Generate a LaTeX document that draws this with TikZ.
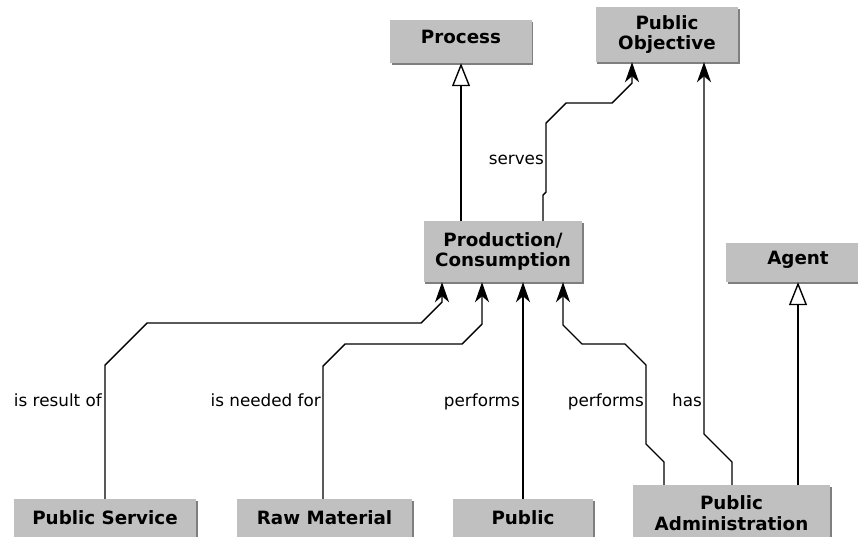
\documentclass[tikz,border=0pt]{standalone}
\usepackage{fontspec}
\setmainfont{DejaVu Sans}
\usetikzlibrary{arrows.meta,shadows}
\definecolor{boxgray}{HTML}{C0C0C0}
\definecolor{shadowgray}{HTML}{7F7F7F}
\begin{document}
\begin{tikzpicture}[x=1pt,y=-1pt,
  box/.style={fill=boxgray, draw=none, inner sep=0pt, align=center,
    font=\fontsize{18.3}{20.5}\selectfont\bfseries,
    drop shadow={shadow xshift=1.6pt, shadow yshift=-1.6pt, fill=shadowgray, opacity=1}},
  single/.style={text height=13.4pt, text depth=8.6pt},
  conn/.style={line width=1.4pt, black},
  assoc/.style={conn, -{Stealth[length=20pt,width=14pt,inset=6pt]}},
  gen/.style={conn, -{Triangle[open,length=23pt,width=18pt,fill=white]}},
  lbl/.style={font=\fontsize{16.8}{20}\selectfont, inner sep=0pt, anchor=base east}]
\useasboundingbox (0,0) rectangle (858,536);
\fill[white] (0,0) rectangle (858,536);
\clip (0,0) rectangle (858,536);

% boxes
\node[box,single,minimum width=141.5pt,minimum height=43pt] (proc) at (461,41.5) {Process};
\node[box,minimum width=142.5pt,minimum height=55pt] (po) at (667,34.5) {Public\\Objective};
\node[box,minimum width=158.5pt,minimum height=61pt] (prod) at (503,251.5) {Production/\\Consumption};
\node[box,single,minimum width=144pt,minimum height=39pt] (agent) at (798,262.5) {Agent};
\node[box,single,minimum width=182.5pt,minimum height=47pt] (ps) at (105,522.5) {Public Service};
\node[box,single,minimum width=175.5pt,minimum height=47pt] (rm) at (324.5,522.5) {Raw Material};
\node[box,single,minimum width=140.5pt,minimum height=47pt] (pub) at (523,522.5) {Public};
\node[box,minimum width=197.5pt,minimum height=56pt] (pa) at (731.5,513) {Public\\Administration};

% labels
\node[lbl] (l1) at (102,406) {is result of};
\node[lbl] (l2) at (321,406) {is needed for};
\node[lbl] (l3) at (520,406) {performs};
\node[lbl] (l4) at (644,406) {performs};
\node[lbl] (l5) at (702,406) {has};
\node[lbl] (l6) at (544,164) {serves};

% connectors
\draw[gen] ([xshift=0pt]prod.north -| proc.south) -- (proc.south);
\draw[assoc] ([xshift=40pt]prod.north) -- (543,195) -- (546,192) -- (546,123) -- (566,103) -- (612,103) -- (632,83) -- ([xshift=-35pt]po.south);
\draw[assoc] ([xshift=0.5pt]pa.north) -- (732,462) -- (704,434) -- ([xshift=37pt]po.south);
\draw[gen] ([xshift=66.5pt]pa.north) -- (agent.south);
\draw[assoc] ([xshift=-67.5pt]pa.north) -- (664,462) -- (646,444) -- (646,365) -- (625,344) -- (582,344) -- (563,325) -- ([xshift=60pt]prod.south);
\draw[assoc] (pub.north) -- ([xshift=20pt]prod.south);
\draw[assoc] ([xshift=-1.5pt]rm.north) -- (323,366) -- (345,344) -- (462,344) -- (482,324) -- ([xshift=-21pt]prod.south);
\draw[assoc] (ps.north) -- (105,365) -- (147,323) -- (421,323) -- (442,302) -- ([xshift=-61pt]prod.south);
\end{tikzpicture}
\end{document}
